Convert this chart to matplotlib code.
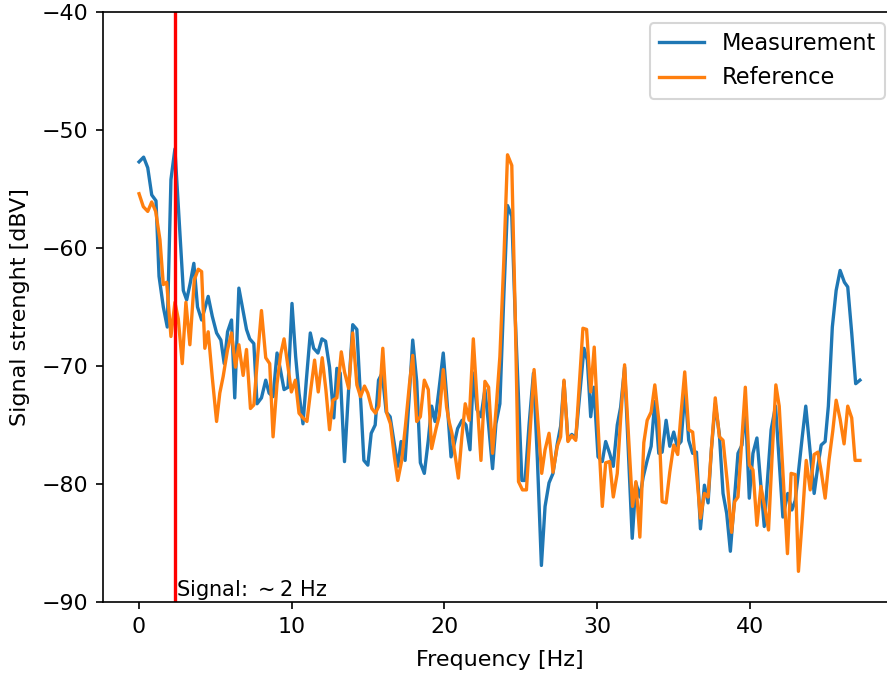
import matplotlib
matplotlib.use("Agg")
import matplotlib.pyplot as plt

meas_f = [0.00, 0.30, 0.57, 0.83, 1.11, 1.31, 1.59, 1.85, 2.09, 2.35, 2.90, 3.12, 3.35, 3.59, 3.83, 4.10,
          4.53, 4.80, 5.08, 5.36, 5.58, 5.80, 6.06, 6.27, 6.54, 6.80, 7.04, 7.25, 7.52, 7.73, 8.02, 8.30,
          8.52, 8.78, 9.04, 9.26, 9.50, 9.76, 10.02, 10.26, 10.48, 10.74, 10.96, 11.22, 11.44, 11.72,
          11.98, 12.22, 12.48, 12.76, 12.96, 13.18, 13.46, 13.73, 14.00, 14.27, 14.50, 14.73, 14.99,
          15.21, 15.47, 15.69, 15.93, 16.19, 16.45, 16.75, 16.95, 17.17, 17.43, 17.68, 17.93, 18.19,
          18.43, 18.69, 18.95, 19.17, 19.39, 19.65, 19.93, 20.15, 20.44, 20.65, 20.87, 21.16, 21.42,
          21.68, 21.90, 22.14, 22.40, 22.66, 22.90, 23.16, 23.38, 23.64, 23.90, 24.14, 24.42, 24.65,
          25.08, 25.29, 25.55, 25.84, 26.10, 26.36, 26.60, 26.86, 27.12, 27.40, 27.62, 27.84, 28.10,
          28.35, 28.61, 28.90, 29.15, 29.37, 29.59, 29.80, 30.07, 30.35, 30.57, 30.83, 31.07, 31.33,
          31.55, 31.81, 32.05, 32.31, 32.55, 32.81, 33.03, 33.29, 33.55, 33.79, 34.05, 34.27, 34.53,
          34.77, 35.03, 35.25, 35.51, 35.77, 36.01, 36.27, 36.52, 36.78, 37.04, 37.28, 37.50, 37.75,
          38.02, 38.26, 38.50, 38.74, 39.02, 39.24, 39.50, 39.72, 39.98, 40.22, 40.48, 40.70, 40.96,
          41.18, 41.41, 41.70, 41.96, 42.18, 42.50, 42.77, 42.99, 43.20, 43.45, 43.68, 43.95, 44.23,
          44.47, 44.69, 44.95, 45.16, 45.42, 45.67, 45.93, 46.21, 46.43, 46.69, 46.95, 47.23]
meas_db = [-52.7, -52.3, -53.2, -55.5, -56.0, -62.4, -65.0, -66.7, -54.2, -51.6, -63.6, -64.4, -63.0,
           -61.3, -65.0, -66.1, -64.1, -65.8, -67.2, -67.8, -69.8, -67.1, -66.1, -72.7, -63.4, -65.2,
           -66.9, -67.7, -68.1, -73.2, -72.7, -71.2, -72.3, -72.6, -68.9, -70.3, -72.0, -71.8, -64.7,
           -69.2, -72.3, -74.9, -71.2, -67.2, -68.5, -68.9, -67.7, -67.9, -70.1, -74.4, -70.2, -70.6,
           -78.1, -72.0, -66.5, -66.9, -72.5, -78.0, -78.4, -75.7, -75.0, -71.2, -70.6, -73.9, -74.3,
           -76.8, -78.5, -76.4, -78.0, -73.0, -67.8, -71.3, -78.2, -79.1, -76.3, -73.4, -74.7, -72.0,
           -68.9, -72.5, -77.7, -76.6, -75.3, -74.6, -75.0, -77.1, -70.6, -73.7, -74.3, -72.0, -75.0,
           -78.7, -74.9, -73.2, -64.0, -56.4, -57.3, -66.0, -79.7, -79.7, -75.0, -70.6, -78.0, -86.9,
           -81.9, -79.9, -79.1, -76.6, -75.1, -71.3, -76.3, -75.8, -76.1, -72.0, -68.5, -69.5, -74.3,
           -71.8, -77.7, -78.1, -76.4, -77.4, -78.5, -75.0, -73.5, -70.1, -77.0, -84.6, -79.9, -81.1,
           -79.4, -78.0, -76.8, -73.0, -77.4, -77.3, -74.6, -76.8, -75.6, -76.8, -76.4, -72.0, -76.3,
           -77.4, -77.3, -83.8, -80.1, -81.6, -77.0, -73.2, -75.8, -80.8, -82.5, -85.7, -81.1, -77.4,
           -76.7, -73.4, -81.2, -77.4, -76.1, -79.5, -83.6, -79.5, -75.4, -73.4, -78.5, -82.8, -80.8,
           -82.2, -81.4, -79.0, -76.0, -73.4, -77.0, -80.8, -78.5, -76.7, -76.4, -73.4, -66.7, -63.6,
           -61.9, -62.9, -63.3, -67.2, -71.5, -71.2]

ref_f = [0.00, 0.28, 0.57, 0.83, 1.09, 1.37, 1.59, 1.81, 2.09, 2.35, 2.57, 2.83, 3.07, 3.33, 3.62, 3.88,
         4.10, 4.31, 4.53, 4.80, 5.08, 5.29, 5.51, 5.80, 6.06, 6.32, 6.54, 6.82, 7.04, 7.30, 7.52, 7.78,
         8.02, 8.30, 8.56, 8.78, 9.04, 9.28, 9.50, 9.76, 9.98, 10.24, 10.48, 10.74, 11.00, 11.25, 11.50,
         11.74, 12.00, 12.24, 12.48, 12.70, 12.96, 13.25, 13.46, 13.73, 14.00, 14.27, 14.51, 14.77,
         14.99, 15.25, 15.49, 15.71, 15.97, 16.23, 16.47, 16.73, 16.95, 17.21, 17.45, 17.71, 17.93,
         18.19, 18.43, 18.69, 18.95, 19.17, 19.46, 19.67, 19.93, 20.15, 20.33, 20.50, 20.70, 20.92,
         21.15, 21.37, 21.63, 21.90, 22.15, 22.40, 22.66, 22.90, 23.16, 23.40, 23.64, 23.90, 24.14,
         24.42, 24.65, 24.86, 25.12, 25.38, 25.62, 25.88, 26.12, 26.38, 26.60, 26.86, 27.12, 27.40,
         27.62, 27.84, 28.10, 28.35, 28.61, 28.85, 29.08, 29.32, 29.59, 29.82, 30.07, 30.35, 30.57,
         30.83, 31.07, 31.33, 31.55, 31.81, 32.07, 32.33, 32.55, 32.81, 33.07, 33.29, 33.55, 33.79,
         34.05, 34.27, 34.53, 34.77, 35.03, 35.29, 35.51, 35.75, 36.01, 36.27, 36.52, 36.78, 37.04,
         37.28, 37.50, 37.75, 38.02, 38.26, 38.55, 38.82, 39.02, 39.24, 39.48, 39.72, 39.98, 40.22,
         40.48, 40.74, 41.00, 41.24, 41.48, 41.72, 41.94, 42.20, 42.48, 42.72, 42.99, 43.20, 43.45,
         43.71, 43.97, 44.23, 44.47, 44.70, 44.95, 45.20, 45.45, 45.67, 45.93, 46.19, 46.43, 46.69,
         46.91, 47.23]
ref_db = [-55.4, -56.5, -56.9, -56.1, -56.9, -59.3, -63.1, -62.9, -67.5, -64.6, -66.0, -69.8, -64.6,
          -68.2, -62.7, -61.8, -62.0, -68.5, -67.1, -71.0, -74.7, -72.3, -70.9, -68.6, -67.2, -70.1,
          -68.2, -70.8, -68.6, -73.6, -73.3, -69.0, -65.3, -69.3, -69.8, -76.0, -71.5, -69.0, -67.7,
          -70.1, -72.2, -71.2, -74.0, -74.4, -74.7, -72.0, -69.5, -72.2, -69.3, -72.0, -75.4, -72.9,
          -72.7, -68.8, -70.5, -71.9, -67.2, -71.6, -72.6, -71.7, -72.3, -73.6, -74.0, -73.4, -68.5,
          -74.0, -74.9, -77.7, -79.7, -78.0, -75.1, -71.6, -69.1, -74.7, -74.3, -71.2, -72.0, -77.0,
          -75.3, -74.2, -70.3, -73.5, -74.8, -75.7, -77.5, -79.5, -76.0, -73.2, -74.6, -67.7, -73.0,
          -78.0, -71.3, -71.8, -77.4, -73.5, -69.2, -61.0, -52.1, -53.0, -66.0, -79.8, -80.5, -80.5,
          -75.5, -70.3, -74.5, -79.1, -77.1, -75.7, -79.0, -76.8, -76.0, -71.2, -76.4, -75.9, -76.3,
          -71.5, -66.8, -66.9, -72.2, -68.4, -75.0, -81.9, -78.2, -78.1, -81.1, -79.1, -74.5, -69.9,
          -76.0, -81.9, -79.8, -84.5, -76.5, -74.6, -73.9, -71.6, -74.6, -81.5, -81.6, -79.0, -76.7,
          -77.5, -74.0, -70.5, -75.4, -75.6, -79.0, -82.9, -80.8, -81.1, -77.0, -72.7, -76.0, -76.3,
          -80.0, -84.1, -81.5, -81.1, -76.5, -71.8, -78.4, -78.8, -83.5, -80.2, -82.0, -83.9, -77.5,
          -71.6, -73.4, -79.5, -85.9, -79.1, -79.2, -87.4, -83.0, -78.0, -80.5, -77.5, -77.3, -79.0,
          -81.2, -78.0, -75.5, -72.9, -74.5, -76.6, -73.4, -74.4, -78.0, -78.0]

signal_freq = 2.34
signal_label = "Signal: $\\sim$2 Hz"
series_labels = ["Measurement", "Reference"]
y_ticks = [-90, -80, -70, -60, -50, -40]

W, H = 887, 675
fig = plt.figure(figsize=(W / 150, H / 150), dpi=150)
ax = fig.add_axes([103 / W, 73 / H, (896 - 103) / W, 590 / H])

ax.plot(meas_f, meas_db, color="tab:blue", label=series_labels[0], linewidth=1.6)
ax.plot(ref_f, ref_db, color="tab:orange", label=series_labels[1], linewidth=1.6)
ax.axvline(signal_freq, color="red", linewidth=1.6)
ax.text(signal_freq + 0.1, -90, signal_label, va="bottom", ha="left", fontsize=10)

ax.set_ylim(-90, -40)
ax.set_yticks(y_ticks)
ax.tick_params(labelsize=10.6)
ax.set_xlabel("Frequency [Hz]", fontsize=10.7, labelpad=6.5)
ax.set_ylabel("Signal strenght [dBV]", fontsize=10.7, labelpad=5.5)
ax.legend(loc="upper right", fontsize=10.8)

fig.savefig("out.png", dpi=150)
